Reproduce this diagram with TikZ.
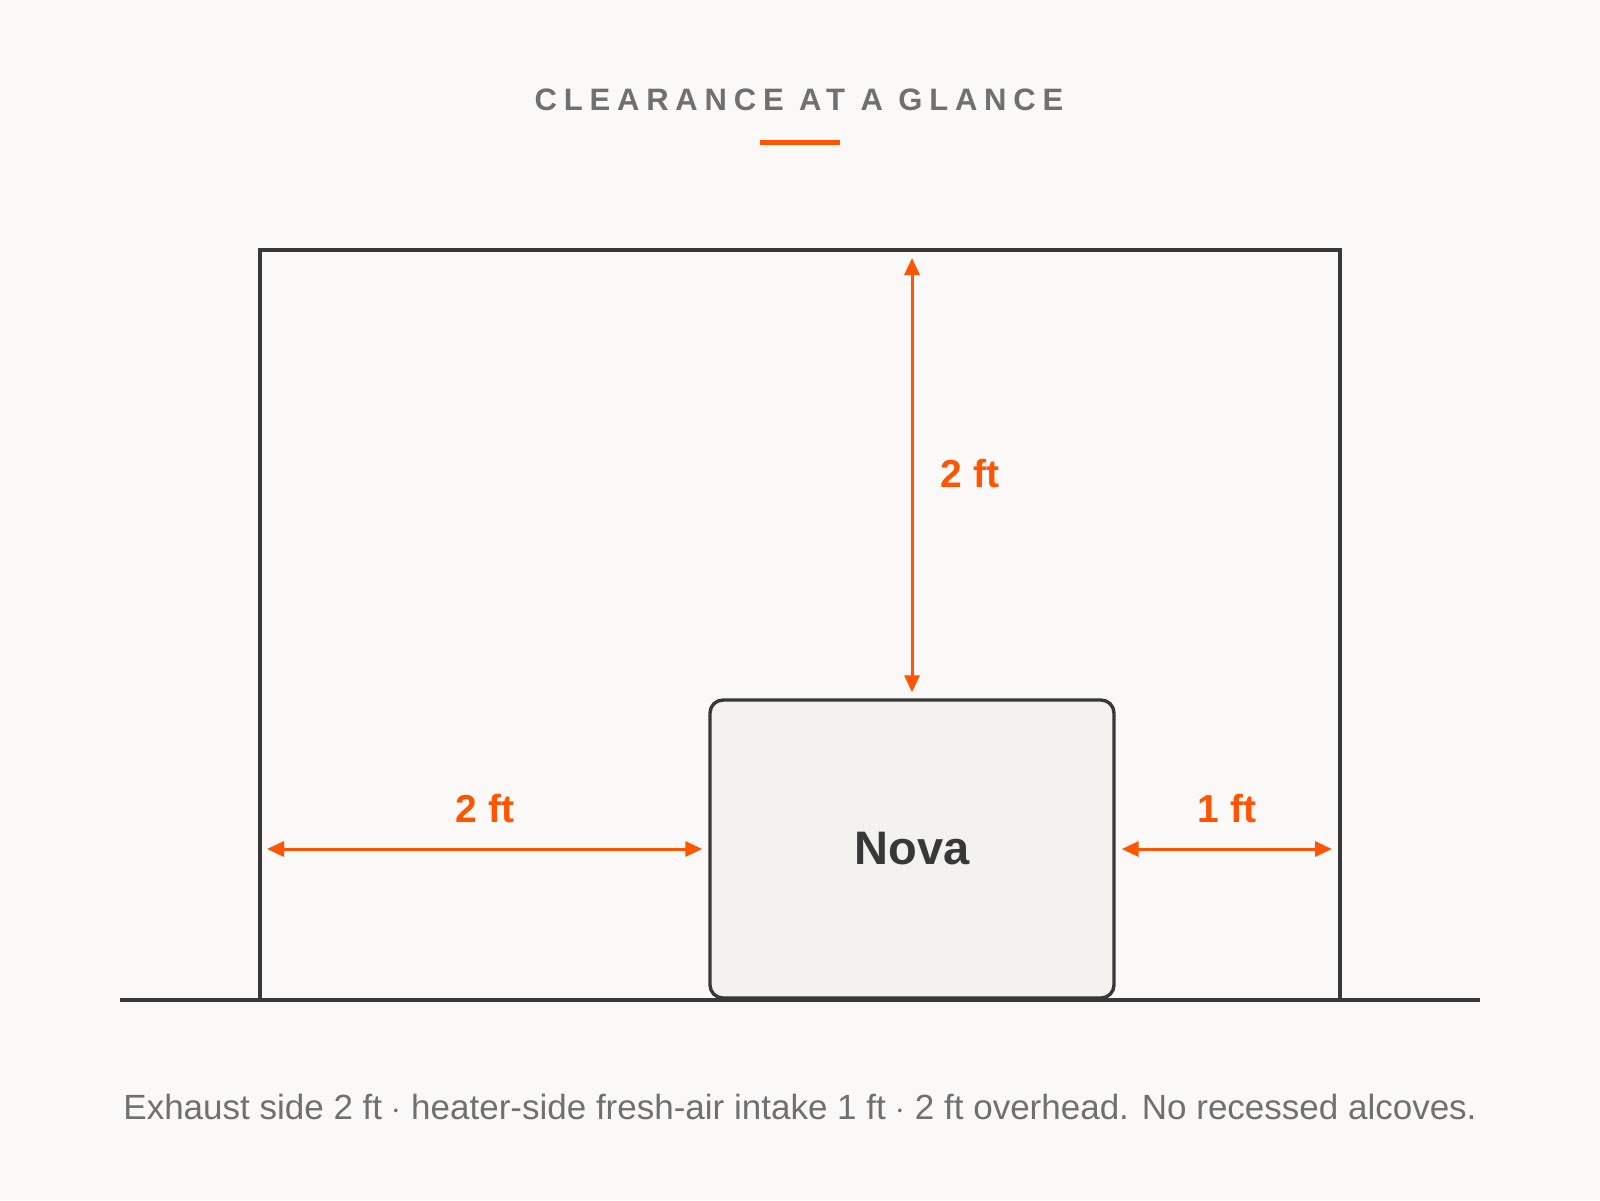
\documentclass[tikz,border=0pt]{standalone}
\usepackage{fontspec}
\setmainfont{Liberation Sans}
\newfontfamily\spacedfont{Liberation Sans}[LetterSpace=22]
\usepackage{tikz}
\usetikzlibrary{arrows.meta,positioning}
\definecolor{paper}{HTML}{FAF9F7}
\definecolor{ink}{HTML}{383838}
\definecolor{accent}{HTML}{FF5500}
\definecolor{muted}{HTML}{707070}
\definecolor{unitfill}{HTML}{F4F2EE}

\begin{document}
\begin{tikzpicture}
[x=0.5pt,y=-0.5pt,
 wall/.style={draw=ink,line width=1.65pt},
 unit/.style={rectangle,rounded corners=6.5pt,draw=ink,fill=unitfill,line width=1.7pt,minimum width=202pt,minimum height=149pt,inner sep=0pt,font=\bfseries\fontsize{23.5}{28}\selectfont,text=ink},
 dim/.style={draw=accent,line width=1.5pt,{Triangle[length=8.5pt,width=7.5pt]}-{Triangle[length=8.5pt,width=7.5pt]}},
 dimlabel/.style={anchor=base,inner sep=0pt,text=accent,font=\bfseries\fontsize{19.5}{23}\selectfont}]
\useasboundingbox (0,0) rectangle (1600,1200);
\fill[paper] (0,0) rectangle (1600,1200);

\node[anchor=base,inner sep=0pt,text=muted,font=\spacedfont\bfseries\fontsize{15.5}{19}\selectfont] (title) at (799,110) {CLEARANCE AT A GLANCE};
\node[fill=accent,minimum width=40pt,minimum height=2.7pt,inner sep=0pt] (bar) at (800,142.5) {};

\coordinate (floorL) at (120,1000);
\coordinate (floorR) at (1480,1000);
\coordinate (wallLb) at (260,1000);
\coordinate (wallLt) at (260,250);
\coordinate (wallRt) at (1340,250);
\coordinate (wallRb) at (1340,1000);

\node[unit] (nova) at (912,849) {Nova};

\coordinate (ceil) at (912,250);
\coordinate (wallL) at (260,849);
\coordinate (wallR) at (1340,849);

\draw [wall] (wallLb) -- (wallLt) -- (wallRt) -- (wallRb);
\draw [wall] (floorL) -- (floorR);

\draw [dim,shorten <=4pt,shorten >=3pt] (ceil) -- (nova.north);
\draw [dim,shorten <=3.5pt,shorten >=3pt] (wallL) -- (nova.west);
\draw [dim,shorten <=3pt,shorten >=4pt] (nova.east) -- (wallR);

\node[dimlabel] (up) at (970,487) {2 ft};
\node[dimlabel] (left) at (485,822) {2 ft};
\node[dimlabel] (right) at (1227,822) {1 ft};

\node[anchor=base,inner sep=0pt,text=muted,font=\fontsize{17.5}{21}\selectfont] (note) at (800,1119) {Exhaust side 2 ft $\cdot$ heater-side fresh-air intake 1 ft $\cdot$ 2 ft overhead. No recessed alcoves.};
\end{tikzpicture}
\end{document}
